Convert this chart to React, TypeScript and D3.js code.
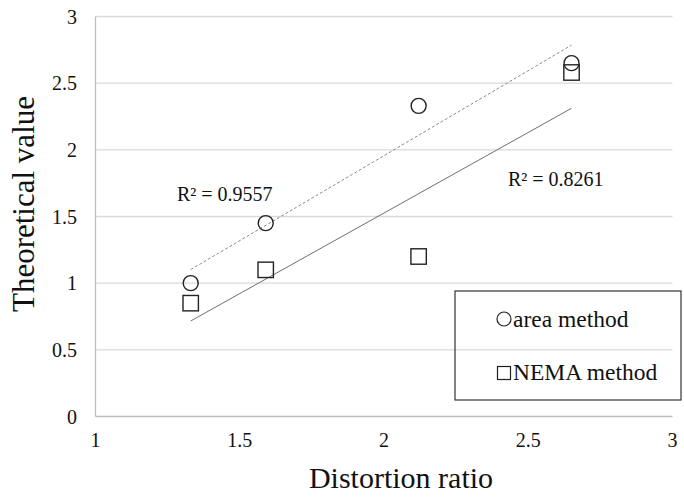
import React from "react";
import * as d3 from "d3";

const distortion = [1.33, 1.59, 2.12, 2.65];
const areaValues = [1.0, 1.45, 2.33, 2.65];
const nemaValues = [0.85, 1.1, 1.2, 2.58];
const xTicks = [1, 1.5, 2, 2.5, 3];
const yTicks = [0, 0.5, 1, 1.5, 2, 2.5, 3];
const seriesNames = ["area method", "NEMA method"];
const r2Labels = ["R² = 0.9557", "R² = 0.8261"];

const W = 684;
const H = 498;
const FS = { fontFamily: "'Liberation Serif'" };

function linreg(xs: number[], ys: number[]) {
  const mx = d3.mean(xs)!;
  const my = d3.mean(ys)!;
  let sxy = 0, sxx = 0;
  xs.forEach((x, i) => {
    sxy += (x - mx) * (ys[i] - my);
    sxx += (x - mx) * (x - mx);
  });
  const slope = sxy / sxx;
  const intercept = my - slope * mx;
  return (x: number) => intercept + slope * x;
}

export default function App() {
  const x = d3.scaleLinear().domain([1, 3]).range([95.5, 672.5]);
  const y = d3.scaleLinear().domain([0, 3]).range([416.5, 16.5]);
  const [xmin, xmax] = d3.extent(distortion) as [number, number];
  const fA = linreg(distortion, areaValues);
  const fN = linreg(distortion, nemaValues);
  const line = d3.line<[number, number]>().x((d) => x(d[0])).y((d) => y(d[1]));
  const trendA = line([[xmin, fA(xmin)], [xmax, fA(xmax)]]) || "";
  const trendN = line([[xmin, fN(xmin)], [xmax, fN(xmax)]]) || "";

  return (
    <svg width={W} height={H} style={{ position: "absolute", left: 0, top: 0, background: "#fff" }}>
      {yTicks.slice(1).map((t) => (
        <line key={"g" + t} x1={x(1)} x2={x(3)} y1={y(t)} y2={y(t)} stroke="#d9d9d9" strokeWidth={1.3} />
      ))}
      <line x1={x(1)} x2={x(1)} y1={y(0)} y2={y(3)} stroke="#bfbfbf" strokeWidth={1.3} />
      <line x1={x(1)} x2={x(3)} y1={y(0)} y2={y(0)} stroke="#bfbfbf" strokeWidth={1.3} />
      {yTicks.map((t) => (
        <text key={"y" + t} x={77} y={y(t)} dy="0.35em" textAnchor="end" fontSize={20} fill="#111" style={FS}>
          {t}
        </text>
      ))}
      {xTicks.map((t) => (
        <text key={"x" + t} x={x(t)} y={447} textAnchor="middle" fontSize={20} fill="#111" style={FS}>
          {t}
        </text>
      ))}
      <text transform="translate(34,204) rotate(-90)" textAnchor="middle" fontSize={31} fill="#111" style={FS}>
        Theoretical value
      </text>
      <text x={401} y={488} textAnchor="middle" fontSize={30} fill="#111" style={FS}>
        Distortion ratio
      </text>
      <path d={trendA} stroke="#8c8c8c" strokeWidth={1} strokeDasharray="3,2" fill="none" />
      <path d={trendN} stroke="#6f6f6f" strokeWidth={1} fill="none" />
      {distortion.map((d, i) => (
        <rect
          key={"n" + i}
          x={x(d) - 7.7}
          y={y(nemaValues[i]) - 7.7}
          width={15.4}
          height={15.4}
          fill="none"
          stroke="#222"
          strokeWidth={1.4}
        />
      ))}
      {distortion.map((d, i) => (
        <circle key={"a" + i} cx={x(d)} cy={y(areaValues[i])} r={7.5} fill="none" stroke="#222" strokeWidth={1.4} />
      ))}
      <text x={177} y={201} fontSize={20} fill="#111" style={FS}>{r2Labels[0]}</text>
      <text x={508} y={186} fontSize={20} fill="#111" style={FS}>{r2Labels[1]}</text>
      <rect x={455} y={291} width={226} height={109} fill="none" stroke="#333" strokeWidth={1.2} />
      <circle cx={504} cy={319} r={7} fill="none" stroke="#222" strokeWidth={1.2} />
      <text x={513} y={327} fontSize={23.5} fill="#111" style={FS}>{seriesNames[0]}</text>
      <rect x={497.5} y={366.5} width={13} height={13} fill="none" stroke="#222" strokeWidth={1.2} />
      <text x={513} y={380} fontSize={23.5} fill="#111" style={FS}>{seriesNames[1]}</text>
    </svg>
  );
}
